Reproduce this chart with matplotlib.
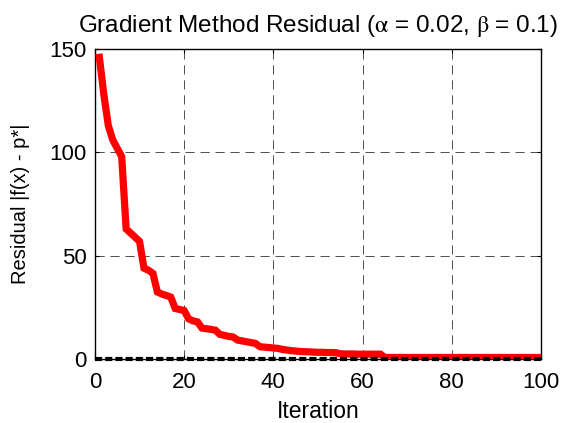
import matplotlib
matplotlib.use("Agg")
from matplotlib import pyplot as plt

plt.rcParams['font.family'] = ['Liberation Sans', 'DejaVu Sans']
plt.rcParams['mathtext.fontset'] = 'stix'

iterations = list(range(1, 101))
residual = [
    146, 128, 113, 106, 102, 98, 63, 61, 59, 57,
    44, 43, 41.5, 32.5, 31.5, 30.8, 30, 24.5, 24, 23.5,
    19.5, 18.5, 18, 15, 14.7, 14.4, 14, 12, 11.5, 11,
    10.7, 9.2, 8.8, 8.4, 8, 7.6, 6, 5.8, 5.6, 5.4,
    5.2, 4.7, 4.4, 4.1, 3.9, 3.7, 3.6, 3.5, 3.4, 3.3,
    3.3, 3.2, 3.2, 3.1, 2.6, 2.5, 2.5, 2.5, 2.4, 2.4,
    2.4, 2.4, 2.4, 2.4, 0.8, 0.8, 0.8, 0.8, 0.8, 0.8,
    0.8, 0.8, 0.8, 0.8, 0.8, 0.8, 0.8, 0.8, 0.8, 0.8,
    0.8, 0.8, 0.8, 0.8, 0.8, 0.8, 0.8, 0.8, 0.8, 0.8,
    0.8, 0.8, 0.8, 0.8, 0.8, 0.8, 0.8, 0.8, 0.8, 0.8,
]
optimum_x = [0, 100]
optimum_y = [0, 0]

xticks = [0, 20, 40, 60, 80, 100]
yticks = [0, 50, 100, 150]

fig = plt.figure(figsize=(5.65, 4.23), dpi=100)
ax = fig.add_axes([0.168, 0.151, 0.7895, 0.733])

ax.plot(iterations, residual, color='red', linewidth=5.2, solid_joinstyle='miter', zorder=3)
ax.plot(optimum_x, optimum_y, color='black', linewidth=3, linestyle=(0, (1.7, 0.75)),
        zorder=4, clip_on=False)

ax.set_xlim(0, 100)
ax.set_ylim(0, 150)
ax.set_xticks(xticks)
ax.set_yticks(yticks)
ax.grid(True, color='0.2', linestyle=(0, (11, 7)), linewidth=0.6)
ax.tick_params(direction='in', length=3, width=0.8, top=True, right=True,
               labelsize=16, pad=6)
ax.tick_params(axis='x', pad=9)
for s in ax.spines.values():
    s.set_linewidth(1.0)

ax.set_xlabel('Iteration', fontsize=16.5, labelpad=5)
ax.set_ylabel('Residual |f(x) - p*|', fontsize=14.5, labelpad=14)
ax.set_title('Gradient Method Residual ($\\mathrm{\\alpha}$ = 0.02, $\\mathrm{\\beta}$ = 0.1)',
             fontsize=17.5, pad=12)

fig.savefig('out.png', dpi=100, facecolor='white')
